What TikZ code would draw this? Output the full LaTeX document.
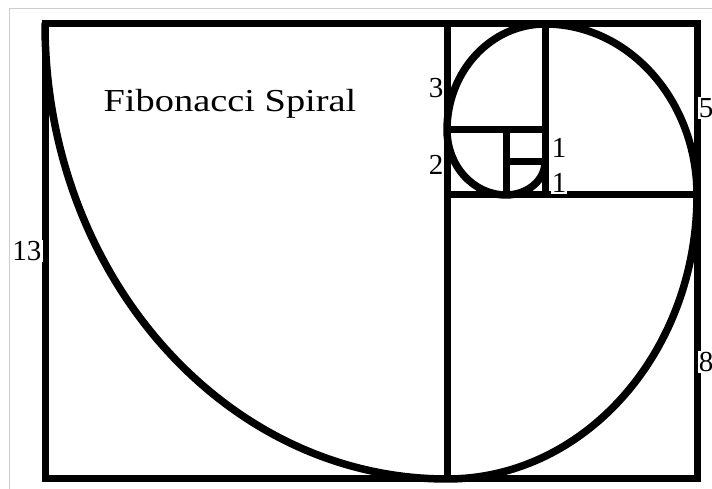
\documentclass[tikz,border=0pt]{standalone}
\usepackage{fontspec}
\setmainfont{Liberation Serif}
\usepackage{tikz}
\usetikzlibrary{calc}

\begin{document}
\begin{tikzpicture}[x=1pt, y=1pt,
        frame/.style={line width=7pt},
        spiral/.style={line width=7.5pt, line cap=round},
        num/.style={fill=white, inner sep=1pt, font=\fontsize{29}{30}\selectfont},
        scanframe/.style={draw=gray!40, line width=1.3pt}]
        \useasboundingbox (0,0) rectangle (712,489);
        \draw[scanframe] (9.5,0) -- (9.5,480.5) -- (712,480.5);

        \coordinate (sw) at (45,10);
        \coordinate (ne) at (697,465);
        \coordinate (s13) at (447,10);
        \coordinate (n13) at (447,465);
        \coordinate (w8) at (447,294);
        \coordinate (e8) at (697,294);
        \coordinate (s5) at (545,294);
        \coordinate (n5) at (545,465);
        \coordinate (w3) at (447,359);
        \coordinate (e3) at (545,359);
        \coordinate (s2) at (506,294);
        \coordinate (n2) at (506,359);
        \coordinate (w1) at (506,327);
        \coordinate (e1) at (545,327);

        \draw[frame] (sw) rectangle (ne);
        \draw[frame] (s13) -- (n13);
        \draw[frame] (w8) -- (e8);
        \draw[frame] (s5) -- (n5);
        \draw[frame] (w3) -- (e3);
        \draw[frame] (s2) -- (n2);
        \draw[frame] (w1) -- (e1);

        \draw[spiral] (sw |- ne)
            arc[start angle=180, end angle=270, x radius=402, y radius=455]
            arc[start angle=270, end angle=360, x radius=250, y radius=284]
            arc[start angle=0, end angle=90, x radius=152, y radius=171]
            arc[start angle=90, end angle=180, x radius=98, y radius=106]
            arc[start angle=180, end angle=270, x radius=59, y radius=65]
            arc[start angle=270, end angle=360, x radius=39, y radius=33];

        \node[anchor=base, xscale=1.2, transform shape, font=\fontsize{32}{36}\selectfont] (title) at (230,377) {Fibonacci Spiral};

        \node[num] (l13) at (27,238) {13};
        \node[num] (l3) at (436,401) {3};
        \node[num] (l2) at (436,324) {2};
        \node[num] (l1a) at (559,341) {1};
        \node[num] (l1b) at (559,306) {1};
        \node[num] (l5) at (706,381) {5};
        \node[num] (l8) at (706,127) {8};
    \end{tikzpicture}
\end{document}
